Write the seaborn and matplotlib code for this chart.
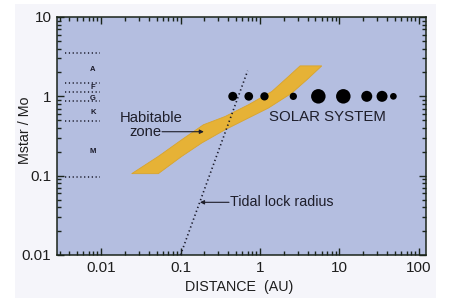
import numpy as np
import pandas as pd
import matplotlib
matplotlib.use("Agg")
import matplotlib.pyplot as plt
from matplotlib.patches import Rectangle
from matplotlib.ticker import FixedLocator, FixedFormatter, NullFormatter
import seaborn as sns

# ---------------- data ----------------
planet_names = ["Mercury", "Venus", "Earth", "Mars", "Jupiter", "Saturn", "Uranus", "Neptune", "Pluto"]
planet_dist_au = [0.455, 0.723, 1.14, 2.63, 5.43, 11.2, 22.1, 34.4, 47.8]
planet_mstar = [1.0] * 9
planet_diam_px = [9.0, 8.7, 8.3, 7.3, 14.5, 14.5, 11.0, 11.0, 6.7]

# habitable zone outline: upper edge (left->right) then lower edge (right->left)
hz_dist = [0.0243, 0.0526, 0.1037, 0.194, 0.364, 0.714, 1.408, 2.28, 3.20, 6.00,
           3.88, 2.51, 1.276, 0.714, 0.364, 0.185, 0.1037, 0.0526]
hz_mstar = [0.106, 0.175, 0.284, 0.438, 0.557, 0.782, 1.149, 1.775, 2.42, 2.42,
            1.61, 1.097, 0.711, 0.532, 0.379, 0.258, 0.175, 0.106]

tidal_dist = [0.10, 0.70]
tidal_mstar = [0.01, 2.1]

class_bounds = [3.5, 1.47, 1.13, 0.885, 0.49, 0.097]
class_bound_x = [0.0035, 0.0097]
class_names = ["A", "F", "G", "K", "M"]
class_mstar = [2.15, 1.31, 0.95, 0.63, 0.20]
class_x = 0.0079

x_ticks = [0.01, 0.1, 1, 10, 100]
x_ticklabels = ["0.01", "0.1", "1", "10", "100"]
y_ticks = [0.01, 0.1, 1, 10]
y_ticklabels = ["0.01", "0.1", "1", "10"]

# ---------------- style ----------------
sns.set_theme(style="ticks")
plt.rcParams["font.family"] = ["Liberation Sans", "DejaVu Sans"]

W, H = 449, 304
fig = plt.figure(figsize=(W / 100, H / 100), dpi=100)
fig.patch.set_facecolor("white")
fig.patches.append(Rectangle((15 / W, 1 - 298 / H), (436 - 15) / W, (298 - 4) / H,
                             transform=fig.transFigure, facecolor="#f5f5fa",
                             edgecolor="none", zorder=-10))

ax = fig.add_axes([57 / W, 1 - 255 / H, 369 / W, 238 / H])
ax.set_facecolor("#b4bee0")
ax.set_xscale("log")
ax.set_yscale("log")
ax.set_xlim(0.00279, 123)
ax.set_ylim(0.01, 10)

# habitable zone
ax.fill(hz_dist, hz_mstar, facecolor="#e6b236", edgecolor="#d9a42c", linewidth=0.6, zorder=2)

# tidal lock radius
tidal_df = pd.DataFrame({"d": tidal_dist, "m": tidal_mstar})
sns.lineplot(data=tidal_df, x="d", y="m", ax=ax, color="#1a1a2a", linewidth=1.2,
             linestyle=(0, (0.8, 1.7)), zorder=3, sort=False)

# spectral class boundaries
for yb in class_bounds:
    bdf = pd.DataFrame({"d": class_bound_x, "m": [yb, yb]})
    sns.lineplot(data=bdf, x="d", y="m", ax=ax, color="#1a1a2a", linewidth=1.1,
                 linestyle=(0, (0.8, 1.7)), zorder=3)
for name, ym in zip(class_names, class_mstar):
    ax.text(class_x, ym, name, fontsize=5.5, fontweight="bold", color="#1a1a2a",
            ha="center", va="center")

# planets
pdf = pd.DataFrame({"d": planet_dist_au, "m": planet_mstar, "name": planet_names})
sizes = {n: (dpx * 0.72) ** 2 for n, dpx in zip(planet_names, planet_diam_px)}
sns.scatterplot(data=pdf, x="d", y="m", size="name", sizes=sizes, color="black",
                edgecolor="none", legend=False, ax=ax, zorder=4)

# annotations
txtc = "#1e1e2a"
ax.text(0.2566, 0.5756, "Habitable", transform=ax.transAxes, fontsize=10.6,
        ha="center", va="center", color=txtc)
ax.text(0.2385, 0.518, "zone", transform=ax.transAxes, fontsize=10.6,
        ha="center", va="center", color=txtc)
ax.annotate("", xy=(0.398, 0.518), xytext=(0.2846, 0.518),
            xycoords="axes fraction", textcoords="axes fraction",
            arrowprops=dict(arrowstyle="-|>", color=txtc, lw=0.8,
                            mutation_scale=6, shrinkA=0, shrinkB=0), zorder=5)
ax.text(0.7339, 0.5811, "SOLAR SYSTEM", transform=ax.transAxes, fontsize=10.8,
        ha="center", va="center", color=txtc)
ax.text(0.4688, 0.2214, "Tidal lock radius", transform=ax.transAxes, fontsize=10.3,
        ha="left", va="center", color=txtc)
ax.annotate("", xy=(0.3875, 0.2214), xytext=(0.4661, 0.2214),
            xycoords="axes fraction", textcoords="axes fraction",
            arrowprops=dict(arrowstyle="-|>", color=txtc, lw=0.8,
                            mutation_scale=6, shrinkA=0, shrinkB=0), zorder=5)

# axes styling
for s in ax.spines.values():
    s.set_color("#1a241a")
    s.set_linewidth(1.1)
    s.set_visible(True)
ax.xaxis.set_major_locator(FixedLocator(x_ticks))
ax.xaxis.set_major_formatter(FixedFormatter(x_ticklabels))
ax.yaxis.set_major_locator(FixedLocator(y_ticks))
ax.yaxis.set_major_formatter(FixedFormatter(y_ticklabels))
ax.xaxis.set_minor_formatter(NullFormatter())
ax.yaxis.set_minor_formatter(NullFormatter())
ax.tick_params(which="both", direction="in", top=True, right=True, color="#1a241a",
               width=1.0, labelsize=11, labelcolor="#1e1e1e")
ax.tick_params(which="major", length=5, pad=4)
ax.tick_params(which="minor", length=3)
ax.set_xlabel("")
ax.set_ylabel("")

fig.text(25 / W, 1 - 130 / H, "Mstar / Mo", rotation=90, fontsize=10.3,
         ha="center", va="center", color="#1e1e1e")
fig.text(239 / W, 1 - 286.7 / H, "DISTANCE  (AU)", fontsize=10.3,
         ha="center", va="center", color="#1e1e1e")

fig.savefig("out.png", dpi=100, facecolor=fig.get_facecolor())
